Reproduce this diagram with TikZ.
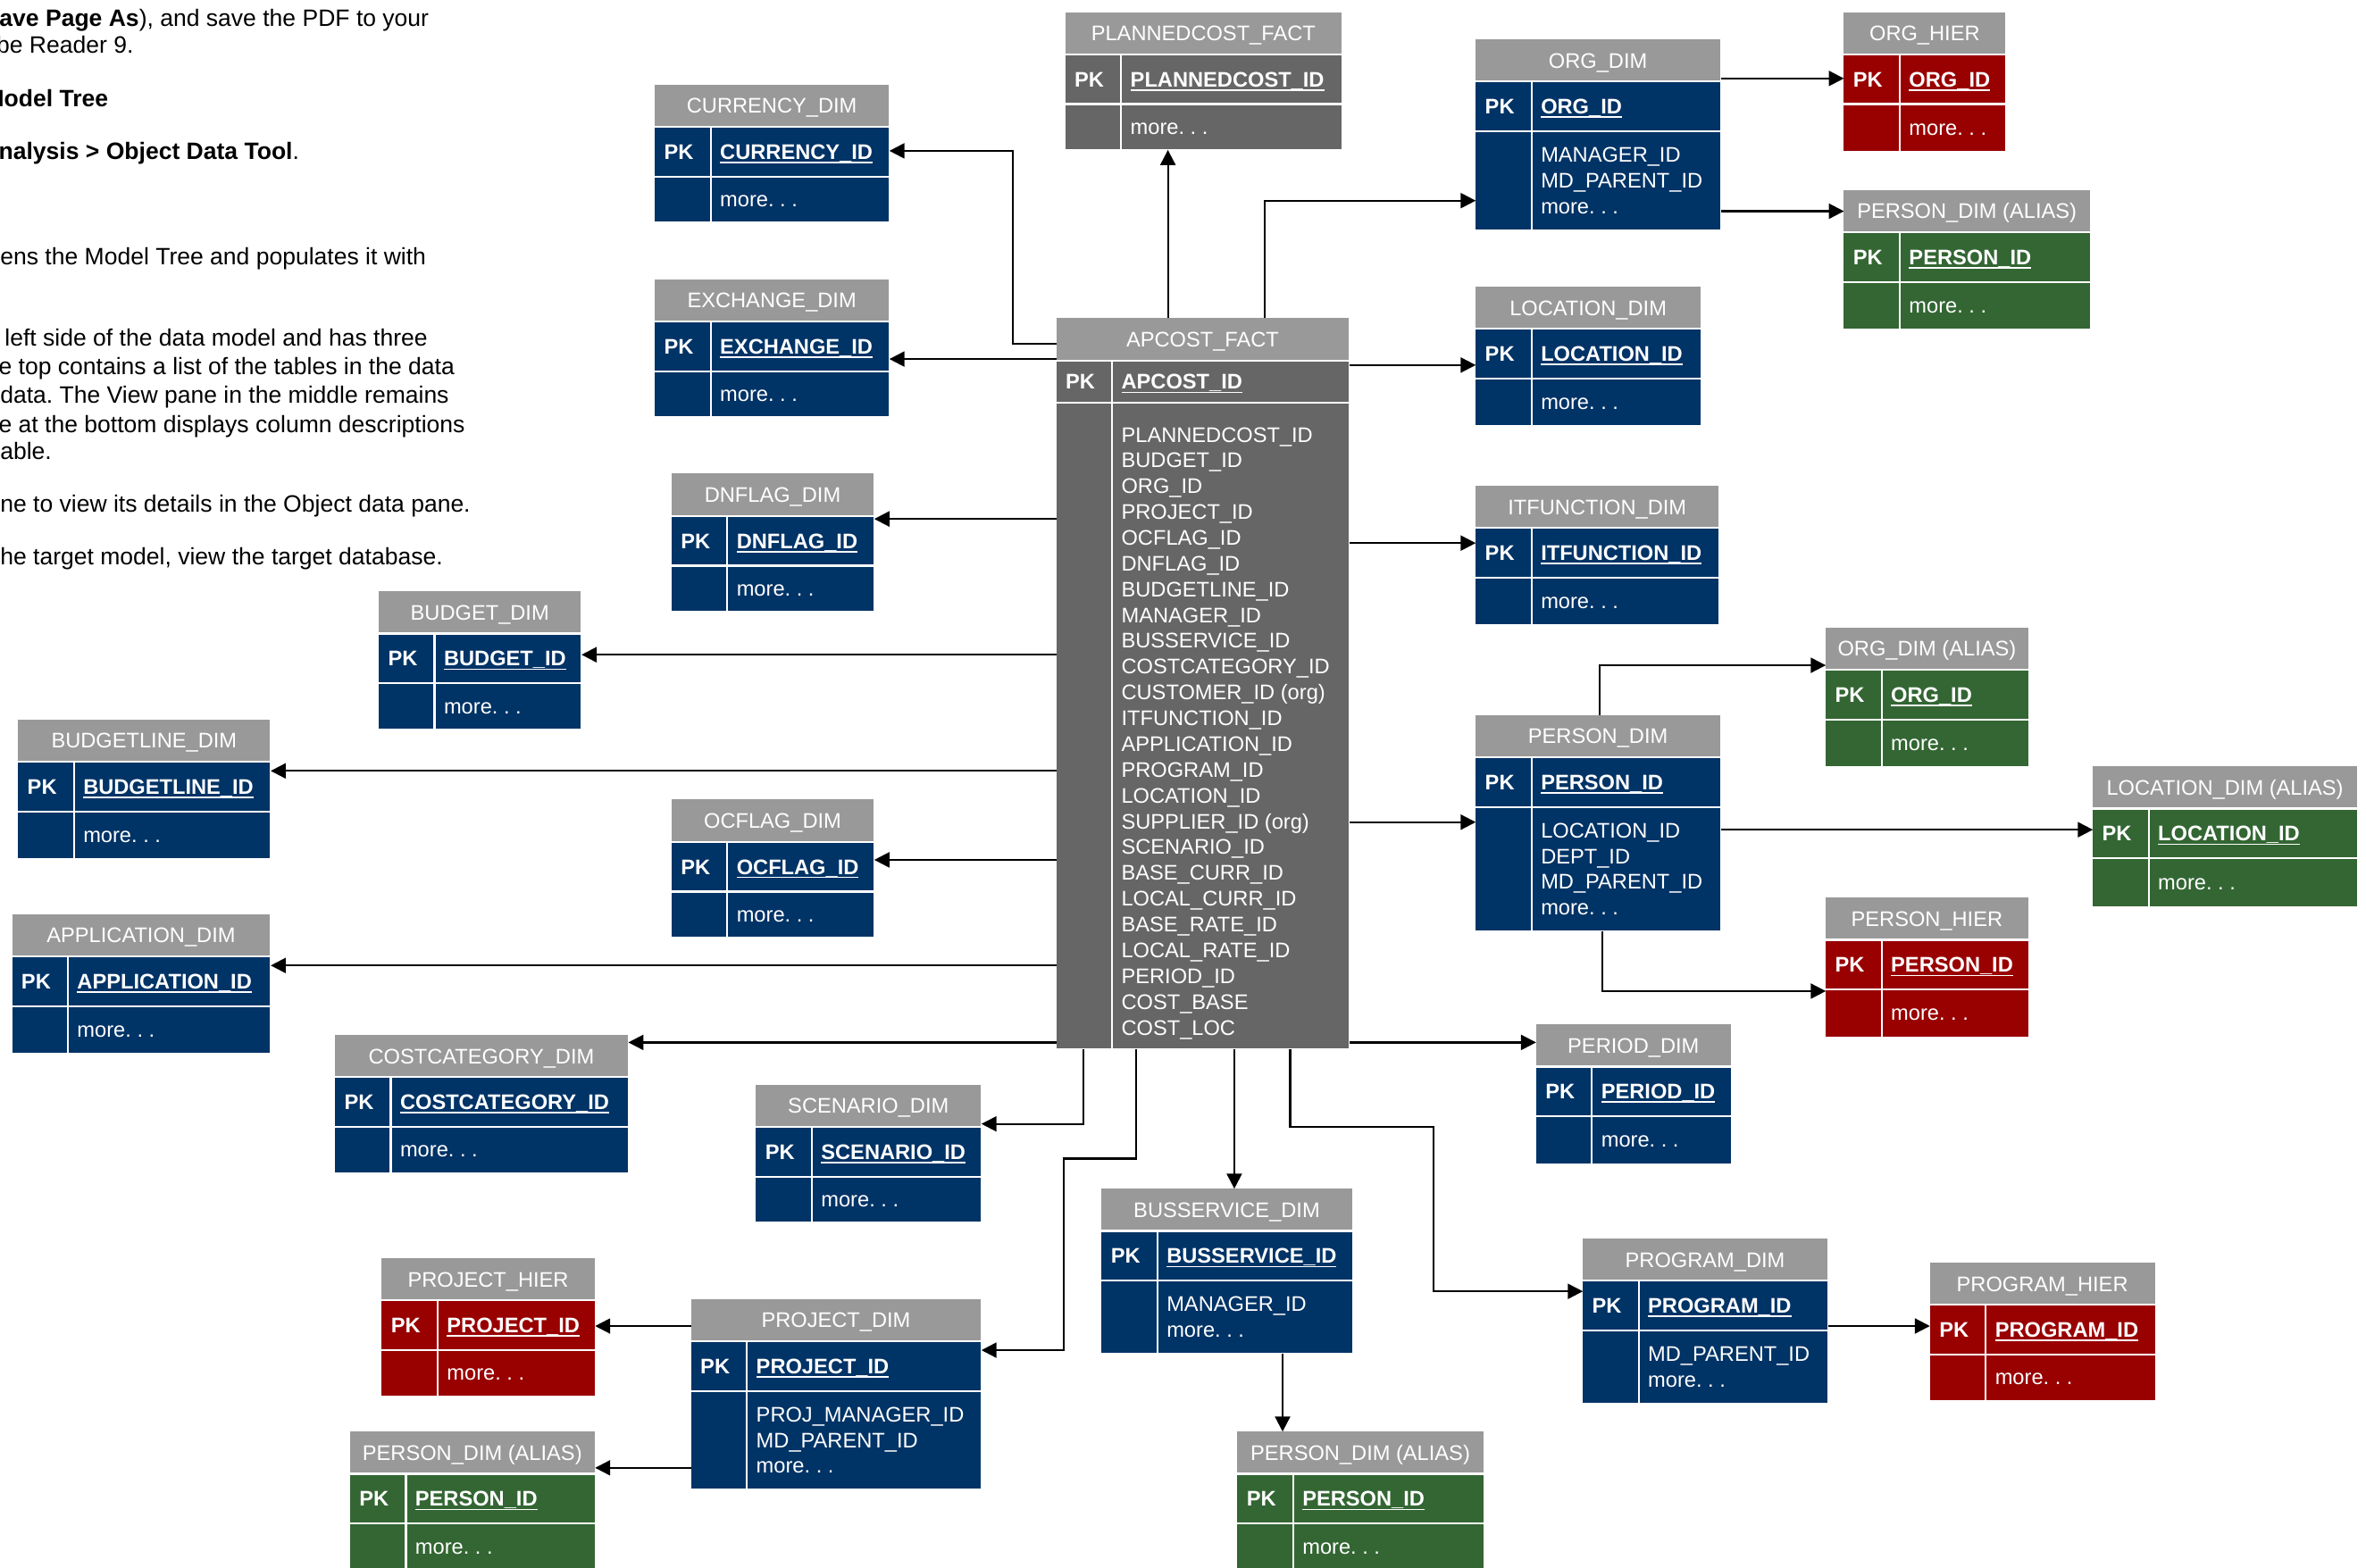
\documentclass[tikz,border=0pt]{standalone}
\usepackage{fontspec}
\setmainfont{Liberation Sans}
\usetikzlibrary{arrows.meta}
\definecolor{hdr}{HTML}{999999}
\definecolor{factc}{HTML}{666666}
\definecolor{bluec}{HTML}{003366}
\definecolor{redc}{HTML}{990000}
\definecolor{greenc}{HTML}{336633}
\frenchspacing
\newcommand\moretxt{more. . .}
\newcommand\pkul[1]{\setbox0\hbox{#1}\rlap{\rule[-2.6pt]{\wd0}{1.0pt}}\box0}
\def\pkh{33}
\newcommand\erbox[9]{%
  \node[tblnode, minimum width={(#4-#3)*1pt}, minimum height={(#6-#5)*1pt}] (#1) at (#3,#5) {};
  \fill[hdr] (#3,#5) rectangle (#4,#5+28);
  \fill[#2] (#3,#5+28) rectangle (#4,#6);
  \draw[sep] (#3,#5+28) -- (#4,#5+28) (#3,#5+28+\pkh) -- (#4,#5+28+\pkh) (#3+37,#5+28) -- (#3+37,#6);
  \node[ttl] at ({(#3+#4)/2},#5+19) {#7};
  \node[pkt] at (#3+6,#5+33+\pkh/2) {PK};
  \node[pkt] at (#3+43,#5+33+\pkh/2) {\pkul{#8}};
  \def\erN{0}%
  \foreach \erL in {#9}{\pgfmathtruncatemacro\erT{\erN+1}\global\let\erN\erT}%
  \pgfmathsetmacro\erFB{(#5+28+\pkh+#6)/2+5-(\erN-1)*8.5}%
  \foreach \erL [count=\erI from 0] in {#9}{\node[bt] at (#3+43,\erFB+\erI*17) {\erL};}%
}
\begin{document}
\begin{tikzpicture}[x=1pt,y=-1pt,
  tblnode/.style={anchor=north west, inner sep=0pt, draw=none},
  sep/.style={draw=white, line width=1.3pt},
  ttl/.style={anchor=base, inner sep=0pt, text=white, font=\fontsize{14}{17}\selectfont},
  pkt/.style={anchor=base west, inner sep=0pt, text=white, font=\fontsize{14}{17}\selectfont\bfseries},
  bt/.style={anchor=base west, inner sep=0pt, text=white, font=\fontsize{14}{17}\selectfont},
  para/.style={anchor=base west, inner sep=0pt, text=black, font=\fontsize{15.7}{19}\selectfont},
  conn/.style={draw=black, line width=1.3pt, -{Triangle[length=10pt,width=10pt]}}]
\fill[white] (0,0) rectangle (1568,1039);
\useasboundingbox (0,0) rectangle (1568,1039);

% left paragraph text (clipped by the page edge)
\node[para] (p1) at (-0.5,17.5) {\textbf{ave Page As}), and save the PDF to your};
\node[para] (p2) at (-2.5,35.5) {be Reader 9.};
\node[para] (p3) at (-10.5,70.5) {\textbf{Model Tree}};
\node[para] (p4) at (-1,105.5) {\textbf{nalysis > Object Data Tool}.};
\node[para] (p5) at (0,175.5) {ens the Model Tree and populates it with};
\node[para] (p6) at (3,229.5) {left side of the data model and has three};
\node[para] (p7) at (-1,248.5) {e top contains a list of the tables in the data};
\node[para] (p8) at (0,267.5) {data. The View pane in the middle remains};
\node[para] (p9) at (-1,286.5) {e at the bottom displays column descriptions};
\node[para] (p10) at (0,304.5) {able.};
\node[para] (p11) at (0,339.5) {ne to view its details in the Object data pane.};
\node[para] (p12) at (0,374.5) {he target model, view the target database.};

% tables
\erbox{plan}{factc}{706}{889}{8}{99}{PLANNEDCOST\_FACT}{PLANNEDCOST\_ID}{\moretxt}
\erbox{currency}{bluec}{434}{589}{56}{147}{CURRENCY\_DIM}{CURRENCY\_ID}{\moretxt}
\erbox{exchange}{bluec}{434}{589}{185}{276}{EXCHANGE\_DIM}{EXCHANGE\_ID}{\moretxt}
\erbox{dnflag}{bluec}{445}{579}{314}{405}{DNFLAG\_DIM}{DNFLAG\_ID}{\moretxt}
\erbox{budget}{bluec}{251}{385}{392}{483}{BUDGET\_DIM}{BUDGET\_ID}{\moretxt}
\erbox{budgetline}{bluec}{12}{179}{477}{569}{BUDGETLINE\_DIM}{BUDGETLINE\_ID}{\moretxt}
\erbox{ocflag}{bluec}{445}{579}{530}{621}{OCFLAG\_DIM}{OCFLAG\_ID}{\moretxt}
\erbox{application}{bluec}{8}{179}{606}{698}{APPLICATION\_DIM}{APPLICATION\_ID}{\moretxt}
\erbox{costcat}{bluec}{222}{416}{686}{777}{COSTCATEGORY\_DIM}{COSTCATEGORY\_ID}{\moretxt}
\erbox{scenario}{bluec}{501}{650}{719}{810}{SCENARIO\_DIM}{SCENARIO\_ID}{\moretxt}
\erbox{projhier}{redc}{253}{394}{834}{925}{PROJECT\_HIER}{PROJECT\_ID}{\moretxt}
\erbox{project}{bluec}{458}{650}{861}{987}{PROJECT\_DIM}{PROJECT\_ID}{PROJ\_MANAGER\_ID, MD\_PARENT\_ID, \moretxt}
\erbox{personbl}{greenc}{232}{394}{949}{1040}{PERSON\_DIM (ALIAS)}{PERSON\_ID}{\moretxt}
\erbox{busservice}{bluec}{730}{896}{788}{897}{BUSSERVICE\_DIM}{BUSSERVICE\_ID}{MANAGER\_ID, \moretxt}
\erbox{personbc}{greenc}{820}{983}{949}{1040}{PERSON\_DIM (ALIAS)}{PERSON\_ID}{\moretxt}
\erbox{program}{bluec}{1049}{1211}{821}{930}{PROGRAM\_DIM}{PROGRAM\_ID}{MD\_PARENT\_ID, \moretxt}
\erbox{proghier}{redc}{1279}{1428}{837}{928}{PROGRAM\_HIER}{PROGRAM\_ID}{\moretxt}
\erbox{period}{bluec}{1018}{1147}{679}{771}{PERIOD\_DIM}{PERIOD\_ID}{\moretxt}
\erbox{personhier}{redc}{1210}{1344}{595}{687}{PERSON\_HIER}{PERSON\_ID}{\moretxt}
\erbox{locationalias}{greenc}{1387}{1562}{508}{601}{LOCATION\_DIM (ALIAS)}{LOCATION\_ID}{\moretxt}
\erbox{person}{bluec}{978}{1140}{474}{617}{PERSON\_DIM}{PERSON\_ID}{LOCATION\_ID, DEPT\_ID, MD\_PARENT\_ID, \moretxt}
\erbox{orgalias}{greenc}{1210}{1344}{416}{508}{ORG\_DIM (ALIAS)}{ORG\_ID}{\moretxt}
\erbox{itfunction}{bluec}{978}{1139}{322}{414}{ITFUNCTION\_DIM}{ITFUNCTION\_ID}{\moretxt}
\erbox{location}{bluec}{978}{1127}{190}{282}{LOCATION\_DIM}{LOCATION\_ID}{\moretxt}
\erbox{org}{bluec}{978}{1140}{26}{152}{ORG\_DIM}{ORG\_ID}{MANAGER\_ID, MD\_PARENT\_ID, \moretxt}
\erbox{orghier}{redc}{1222}{1329}{8}{100}{ORG\_HIER}{ORG\_ID}{\moretxt}
\erbox{persontr}{greenc}{1222}{1385}{126}{218}{PERSON\_DIM (ALIAS)}{PERSON\_ID}{\moretxt}
{\def\pkh{28}%
\erbox{apcost}{factc}{700}{894}{211}{695}{APCOST\_FACT}{APCOST\_ID}{}}
\foreach \erL [count=\erI from 0] in {PLANNEDCOST\_ID, BUDGET\_ID, ORG\_ID, PROJECT\_ID, OCFLAG\_ID, DNFLAG\_ID, BUDGETLINE\_ID, MANAGER\_ID, BUSSERVICE\_ID, COSTCATEGORY\_ID, CUSTOMER\_ID (org), ITFUNCTION\_ID, APPLICATION\_ID, PROGRAM\_ID, LOCATION\_ID, SUPPLIER\_ID (org), SCENARIO\_ID, BASE\_CURR\_ID, LOCAL\_CURR\_ID, BASE\_RATE\_ID, LOCAL\_RATE\_ID, PERIOD\_ID, COST\_BASE, COST\_LOC}
  {\node[bt] at (743,293+\erI*17.09) {\erL};}

% connectors
\draw[conn] (apcost.north -| 774,0) -- (plan.south -| 774,0);
\draw[conn] (apcost.north -| 838,0) |- (org.west |- 0,133);
\draw[conn] (apcost.west |- 0,228) -- (671,228) |- (currency.east |- 0,100);
\draw[conn] (apcost.west |- 0,238) -- (exchange.east |- 0,238);
\draw[conn] (apcost.west |- 0,344) -- (dnflag.east |- 0,344);
\draw[conn] (apcost.west |- 0,434) -- (budget.east |- 0,434);
\draw[conn] (apcost.west |- 0,511) -- (budgetline.east |- 0,511);
\draw[conn] (apcost.west |- 0,570) -- (ocflag.east |- 0,570);
\draw[conn] (apcost.west |- 0,640) -- (application.east |- 0,640);
\draw[conn] (apcost.west |- 0,691) -- (costcat.east |- 0,691);
\draw[conn] (apcost.south -| 718,0) |- (scenario.east |- 0,745);
\draw[conn] (apcost.south -| 753,0) -- (753,768) -| (705,895) -- (project.east |- 0,895);
\draw[conn] (apcost.south -| 818,0) -- (busservice.north -| 818,0);
\draw[conn] (apcost.south -| 855,0) -- (855,747) -| (950,856) -- (program.west |- 0,856);
\draw[conn] (apcost.east |- 0,691) -- (period.west |- 0,691);
\draw[conn] (apcost.east |- 0,545) -- (person.west |- 0,545);
\draw[conn] (apcost.east |- 0,360) -- (itfunction.west |- 0,360);
\draw[conn] (apcost.east |- 0,242) -- (location.west |- 0,242);
\draw[conn] (org.east |- 0,52) -- (orghier.west |- 0,52);
\draw[conn] (org.east |- 0,140) -- (persontr.west |- 0,140);
\draw[conn] (person.north -| 1060,0) |- (orgalias.west |- 0,441);
\draw[conn] (person.east |- 0,550) -- (locationalias.west |- 0,550);
\draw[conn] (person.south -| 1062,0) |- (personhier.west |- 0,657);
\draw[conn] (program.east |- 0,879) -- (proghier.west |- 0,879);
\draw[conn] (busservice.south -| 850,0) -- (personbc.north -| 850,0);
\draw[conn] (project.west |- 0,879) -- (projhier.east |- 0,879);
\draw[conn] (project.west |- 0,973) -- (personbl.east |- 0,973);
\end{tikzpicture}
\end{document}
